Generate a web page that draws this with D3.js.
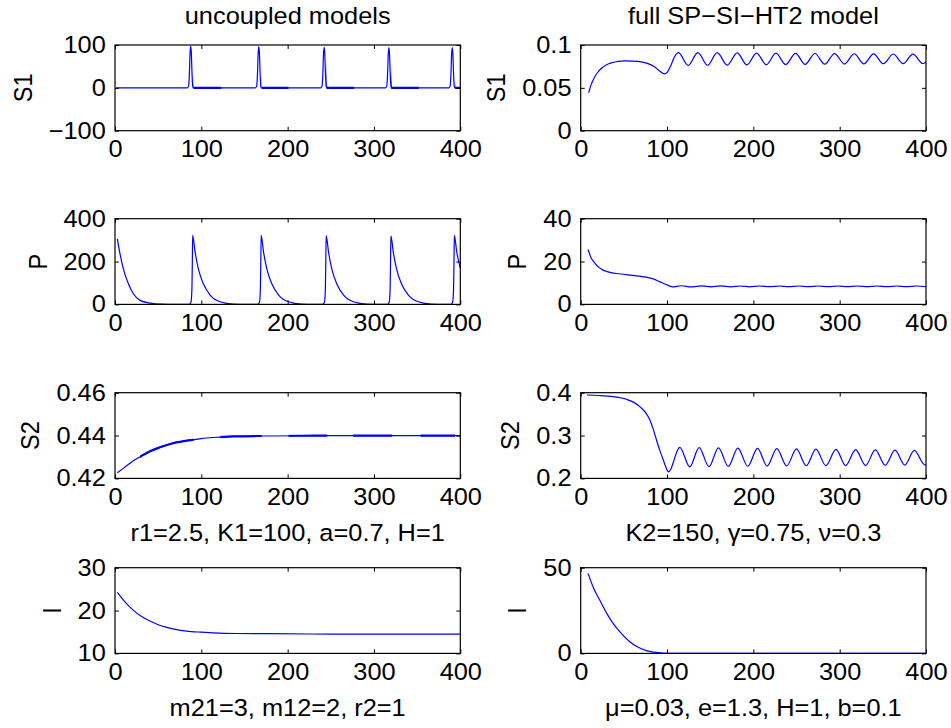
<!DOCTYPE html>
<html>
<head>
<meta charset="utf-8">
<script src="https://cdn.jsdelivr.net/npm/d3@7/dist/d3.min.js"></script>
<style>
  body { margin: 0; background: #fff; }
  svg text { font-family: "Liberation Sans", Arial, Helvetica, sans-serif; fill: #000; }
</style>
</head>
<body>
<div id="chart"></div>
<script>
// Data: [time, value]
const s1Uncoupled = [
  [1, 0],
  [83.8, 0], [85.2, 4], [86.2, 35], [86.9, 80], [87.7, 97.7], [88.4, 82], [89.2, 35], [90, 4], [90.7, 0],
  [162.7, 0], [164.1, 4], [165.1, 35], [165.8, 79], [166.6, 96], [167.3, 81], [168.1, 35], [168.9, 4], [169.6, 0],
  [238.4, 0], [239.8, 4], [240.8, 34], [241.5, 78], [242.3, 94.5], [243, 80], [243.8, 34], [244.6, 4], [245.3, 0],
  [313.4, 0], [314.8, 4], [315.8, 34], [316.5, 77], [317.3, 93.8], [318, 79], [318.8, 34], [319.6, 4], [320.3, 0],
  [386.8, 0], [388.2, 4], [389.2, 34], [389.9, 77], [390.7, 93.8], [391.4, 79], [392.2, 34], [393, 4], [393.7, 0],
  [400, 0]
];
const pUncoupled = [
  [2.7, 306], [5.8, 236], [9.7, 166], [15.5, 96], [21.3, 49.5], [29, 18.7], [40.6, 6], [55, 1], [70, 0.1],
  [86, 0], [88, 10], [89, 60], [89.6, 200], [90, 322], [92.8, 244], [96.6, 166], [102.4, 96], [110, 45], [121.7, 12.6], [137, 1.5], [155, 0.1],
  [165.3, 0], [167.3, 10], [168.3, 60], [168.9, 200], [169.3, 322], [172.1, 244], [175.9, 166], [181.7, 96], [189.3, 45], [201, 12.6], [216.3, 1.5], [234, 0.1],
  [240.6, 0], [242.6, 10], [243.6, 60], [244.2, 200], [244.6, 321], [247.4, 243], [251.2, 165], [257, 95], [264.6, 45], [276.3, 12.6], [291.6, 1.5], [309, 0.1],
  [315.6, 0], [317.6, 10], [318.6, 60], [319.2, 200], [319.6, 320], [322.4, 243], [326.2, 165], [332, 95], [339.6, 45], [351.3, 12.6], [366.6, 1.5], [385, 0.1],
  [389.1, 0], [391.1, 10], [392.1, 60], [392.7, 200], [393.1, 322], [395.9, 244], [400, 170]
];
const s2Uncoupled = [
  [2.7, 0.4226], [10, 0.4248], [20, 0.4279], [29, 0.4301], [40, 0.4326], [52, 0.4345], [65, 0.4362],
  [83, 0.4376], [100, 0.4386], [114, 0.4391], [137, 0.4396], [170, 0.4398], [220, 0.4399], [300, 0.44], [400, 0.44]
];
const iUncoupled = [
  [2.7, 24.24], [10, 22.4], [21, 20.1], [30, 18.7], [40.6, 17.55], [50, 16.7], [60, 16.07], [70, 15.6],
  [83, 15.2], [100, 14.95], [114, 14.8], [140, 14.65], [176, 14.6], [250, 14.52], [400, 14.5]
];

const s1Full = [
  [9.2, 0.0443], [12, 0.0535], [16.2, 0.0627], [20, 0.0685], [23.8, 0.0726], [29, 0.0765], [35.3, 0.0792],
  [43, 0.0808], [50.8, 0.0815], [60, 0.0813], [70, 0.0804], [78, 0.0782], [85.4, 0.0745], [91, 0.07],
  [97, 0.0663], [100, 0.068], [104.6, 0.0765], [108.5, 0.086], [113.2, 0.0912],
  [124.5, 0.0762], [135.7, 0.0911], [147, 0.0764], [158.1, 0.091], [169.7, 0.0766], [181.3, 0.0908],
  [192.5, 0.0768], [203.7, 0.0906], [215, 0.077], [226.1, 0.0905], [237.5, 0.0772], [248.9, 0.0903],
  [260, 0.0774], [271.3, 0.0901], [282.7, 0.0776], [294.1, 0.09], [305.5, 0.0778], [316.9, 0.0898],
  [328, 0.0779], [339.3, 0.0897], [350.7, 0.0781], [362.1, 0.0895], [373.5, 0.0782], [384.9, 0.0894],
  [396.3, 0.0784], [400, 0.08]
];
const pFull = [
  [8.5, 25.6], [12, 21.8], [16.2, 19.4], [20, 17.6], [26, 16], [35, 14.8], [45, 14.3], [55, 13.8],
  [68, 13.2], [76, 12.7], [84, 11.9], [92, 10.5], [99, 9.3], [106, 8.2], [117, 8.7], [128, 8.15],
  [140, 8.65], [151, 8.2], [162, 8.65], [174, 8.2], [185, 8.6], [196, 8.2], [207, 8.6], [219, 8.25],
  [230, 8.6], [241, 8.25], [253, 8.6], [264, 8.25], [275, 8.6], [287, 8.25], [298, 8.6], [309, 8.25],
  [321, 8.6], [332, 8.25], [343, 8.6], [355, 8.3], [366, 8.6], [377, 8.3], [389, 8.6], [400, 8.3]
];
const s2Full = [
  [7.3, 0.3946], [20, 0.3935], [37.5, 0.3907], [53, 0.3846], [61, 0.378], [68.4, 0.3676], [75, 0.354],
  [80, 0.3367], [84, 0.315], [87.7, 0.2903], [91.5, 0.266], [95.5, 0.244], [98.5, 0.227], [101.6, 0.2154],
  [104.5, 0.222], [108, 0.242], [111.5, 0.263], [114.8, 0.2726],
  [126.3, 0.227], [137.2, 0.272], [148.6, 0.2275], [159.6, 0.2714], [171, 0.228], [182, 0.2708],
  [193.6, 0.2284], [204.8, 0.2702], [216, 0.2288], [227.2, 0.2696], [238.6, 0.2292], [250, 0.269],
  [261.2, 0.2295], [272.5, 0.2684], [284, 0.2298], [295.7, 0.2678], [307, 0.23], [318.5, 0.2672],
  [330, 0.2303], [341.3, 0.2666], [352.7, 0.2307], [364.1, 0.266], [375.3, 0.2311], [386.5, 0.2655],
  [398.5, 0.2317], [400, 0.2325]
];
const iFull = [
  [8.5, 46.7], [15, 38], [22, 31.1], [30, 23.5], [37.5, 17.5], [45, 12.8], [56.8, 6.8], [65, 4],
  [76, 1.6], [85, 0.7], [95.5, 0.2], [110, 0.02], [150, 0], [400, 0]
];

// time spans where the solver output is dense and the trace looks heavier
const s1DenseSpans = [[91, 123], [170, 201], [245, 277], [320, 352], [394, 400]];
const s2DenseSpans = [[29, 91], [122, 170], [201, 246], [276, 321], [354, 394]];

const xTicks = [0, 100, 200, 300, 400];
const columnTitles = ['uncoupled models', 'full SP\u2212SI\u2212HT2 model'];
const row3Labels = ['r1=2.5, K1=100, a=0.7, H=1', 'K2=150, \u03b3=0.75, \u03bd=0.3'];
const row4Labels = ['m21=3, m12=2, r2=1', '\u03bc=0.03, e=1.3, H=1, b=0.1'];

const panels = [
  { row: 0, col: 0, data: s1Uncoupled, dense: s1DenseSpans, yDomain: [-100, 100], yTicks: [-100, 0, 100], yTickLabels: ['\u2212100', '0', '100'], yLabel: 'S1' },
  { row: 0, col: 1, data: s1Full, yDomain: [0, 0.1], yTicks: [0, 0.05, 0.1], yTickLabels: ['0', '0.05', '0.1'], yLabel: 'S1' },
  { row: 1, col: 0, data: pUncoupled, yDomain: [0, 400], yTicks: [0, 200, 400], yTickLabels: ['0', '200', '400'], yLabel: 'P' },
  { row: 1, col: 1, data: pFull, yDomain: [0, 40], yTicks: [0, 20, 40], yTickLabels: ['0', '20', '40'], yLabel: 'P' },
  { row: 2, col: 0, data: s2Uncoupled, dense: s2DenseSpans, yDomain: [0.42, 0.46], yTicks: [0.42, 0.44, 0.46], yTickLabels: ['0.42', '0.44', '0.46'], yLabel: 'S2' },
  { row: 2, col: 1, data: s2Full, yDomain: [0.2, 0.4], yTicks: [0.2, 0.3, 0.4], yTickLabels: ['0.2', '0.3', '0.4'], yLabel: 'S2' },
  { row: 3, col: 0, data: iUncoupled, yDomain: [10, 30], yTicks: [10, 20, 30], yTickLabels: ['10', '20', '30'], yLabel: 'I' },
  { row: 3, col: 1, data: iFull, yDomain: [0, 50], yTicks: [0, 50], yTickLabels: ['0', '50'], yLabel: 'I' }
];

// Layout
const dimensions = {
  width: 951,
  height: 728,
  colLeft: [115, 580.7],
  rowTop: [45, 218.7, 392.7, 567.7],
  boxWidth: 345.3,
  boxHeight: 85.7,
  fontSize: 23.5,
  stretch: 1.08
};
const stretch = `scale(${dimensions.stretch},1)`;

const svg = d3.select('#chart')
  .append('svg')
  .attr('width', dimensions.width)
  .attr('height', dimensions.height)
  .style('font-size', dimensions.fontSize + 'px');

const xScale = d3.scaleLinear()
  .domain([0, 400])
  .range([0, dimensions.boxWidth]);

panels.forEach((p, idx) => {
  const ctr = svg.append('g')
    .attr('transform', `translate(${dimensions.colLeft[p.col]}, ${dimensions.rowTop[p.row]})`);

  const yScale = d3.scaleLinear()
    .domain(p.yDomain)
    .range([dimensions.boxHeight, 0]);

  const line = d3.line()
    .x(d => xScale(d[0]))
    .y(d => yScale(d[1]))
    .curve(d3.curveMonotoneX);

  // series
  ctr.append('path')
    .datum(p.data)
    .attr('d', line)
    .attr('fill', 'none')
    .attr('stroke', '#0000ff')
    .attr('stroke-width', 1.2);

  // heavier copy of the same trace, clipped to the dense spans
  if (p.dense) {
    const clipId = `dense-${idx}`;
    ctr.append('clipPath')
      .attr('id', clipId)
      .selectAll('rect')
      .data(p.dense)
      .join('rect')
      .attr('x', d => xScale(d[0]))
      .attr('width', d => xScale(d[1]) - xScale(d[0]))
      .attr('y', 0)
      .attr('height', dimensions.boxHeight);
    ctr.append('path')
      .datum(p.data)
      .attr('d', line)
      .attr('clip-path', `url(#${clipId})`)
      .attr('fill', 'none')
      .attr('stroke', '#0000ff')
      .attr('stroke-width', 2.2);
  }

  // inward ticks on all four sides
  ctr.append('g')
    .attr('transform', `translate(0, ${dimensions.boxHeight})`)
    .call(d3.axisBottom(xScale).tickValues(xTicks).tickSize(-4).tickSizeOuter(0).tickPadding(10));
  ctr.append('g')
    .call(d3.axisTop(xScale).tickValues(xTicks).tickSize(-4).tickSizeOuter(0).tickFormat(''));
  const yAxisGroup = ctr.append('g')
    .call(d3.axisLeft(yScale).tickValues(p.yTicks).tickSize(-4).tickSizeOuter(0).tickPadding(8.5)
      .tickFormat((d, i) => p.yTickLabels[i]));
  ctr.append('g')
    .attr('transform', `translate(${dimensions.boxWidth}, 0)`)
    .call(d3.axisRight(yScale).tickValues(p.yTicks).tickSize(-4).tickSizeOuter(0).tickFormat(''));

  ctr.selectAll('.domain').remove();
  ctr.selectAll('.tick line').attr('stroke', '#000').attr('stroke-width', 1);
  ctr.selectAll('.tick text').attr('transform', stretch);
  ctr.selectAll('g').attr('font-size', null).attr('font-family', null);

  ctr.append('rect')
    .attr('width', dimensions.boxWidth)
    .attr('height', dimensions.boxHeight)
    .attr('fill', 'none')
    .attr('stroke', '#000')
    .attr('stroke-width', 1.2);

  // y label sits left of the widest tick label
  const labelX = yAxisGroup.node().getBBox().x - 17;
  ctr.append('text')
    .attr('transform', `translate(${labelX}, ${dimensions.boxHeight / 2}) ${stretch} rotate(-90)`)
    .attr('text-anchor', 'middle')
    .text(p.yLabel);
});

// column titles and x labels
const centers = dimensions.colLeft.map(x => x + dimensions.boxWidth / 2);
const addText = (x, y, str) => svg.append('text')
  .attr('transform', `translate(${x}, ${y}) ${stretch}`)
  .attr('text-anchor', 'middle')
  .text(str);

columnTitles.forEach((t, i) => addText(centers[i], 24, t));
row3Labels.forEach((t, i) => addText(centers[i], dimensions.rowTop[2] + dimensions.boxHeight + 63, t));
row4Labels.forEach((t, i) => addText(centers[i], dimensions.rowTop[3] + dimensions.boxHeight + 63, t));
</script>
</body>
</html>
